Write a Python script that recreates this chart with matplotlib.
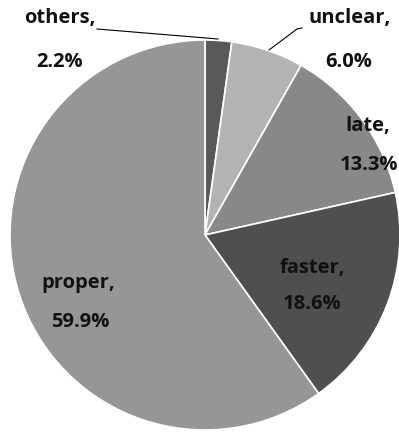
import matplotlib
matplotlib.use("Agg")
import matplotlib.pyplot as plt

labels = ["others", "unclear", "late", "faster", "proper"]
values = [2.2, 6.0, 13.3, 18.6, 59.9]
colors = ["#595959", "#b3b3b3", "#888888", "#4f4f4f", "#969696"]

W, H = 399, 432
cx, cy, R = 205, 235, 195

def px(x, y):
    return ((x - cx) / R, (cy - y) / R)

fig = plt.figure(figsize=(W / 100, H / 100), dpi=100)
ax = fig.add_axes([0, 0, 1, 1])
ax.pie(values, colors=colors, startangle=90, counterclock=False, radius=1.0,
       wedgeprops=dict(edgecolor="white", linewidth=1.2))
ax.set_xlim(-cx / R, (W - cx) / R)
ax.set_ylim(-(H - cy) / R, cy / R)
ax.set_aspect("equal")
ax.axis("off")

font = dict(family=["Open Sans", "DejaVu Sans"], weight="bold", fontsize=14.5,
            color="#111111", ha="center", va="center")
label_pos = {
    "others": ((60, 18), (60, 62)),
    "unclear": ((350, 18), (349, 62)),
    "late": ((368, 126), (369, 165)),
    "faster": ((312, 268), (312, 304)),
    "proper": ((78, 283), (80, 322)),
}
for lab, val in zip(labels, values):
    (x1, y1), (x2, y2) = label_pos[lab]
    ax.text(*px(x1, y1), f"{lab},", **font)
    ax.text(*px(x2, y2), f"{val:.1f}%", **font)

# leader lines
l1 = [px(97, 29), px(218, 39)]
ax.plot([p[0] for p in l1], [p[1] for p in l1], color="black", lw=0.8)
l2 = [px(269, 50), px(297, 29), px(302, 28)]
ax.plot([p[0] for p in l2], [p[1] for p in l2], color="black", lw=0.8)

fig.savefig("out.png", dpi=100)
